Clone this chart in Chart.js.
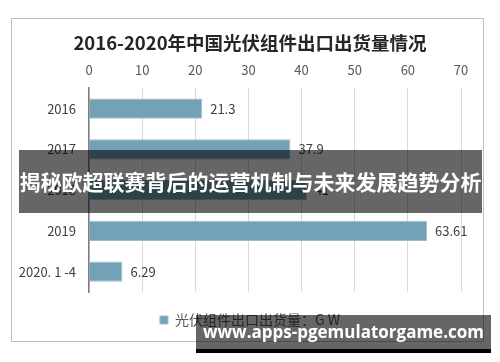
<!DOCTYPE html>
<html lang="zh">
<head>
<meta charset="utf-8">
<script src="https://cdn.jsdelivr.net/npm/chart.js@4.4.1/dist/chart.umd.min.js"></script>
<style>
  html,body{margin:0;padding:0;background:#fff;}
  #wrap{position:relative;width:500px;height:362px;overflow:hidden;}
  #frame{position:absolute;left:11px;top:18px;width:471px;height:322px;border:1.5px solid #bfbfbf;}
  canvas{position:absolute;left:0;top:0;}
  #banner{position:absolute;left:19px;top:150px;width:463px;height:63px;background:rgba(0,0,0,0.6);
    color:#fff;font:bold 21px "Noto Sans CJK SC",sans-serif;line-height:63px;text-align:center;white-space:nowrap;}
  #mark{position:absolute;left:196px;top:315px;width:295px;height:34px;background:rgba(0,0,0,0.6);
    border-bottom:4px solid #000;color:#fff;font:bold 17px "Open Sans",sans-serif;line-height:34px;text-align:center;white-space:nowrap;}
</style>
</head>
<body>
<div id="wrap">
  <div id="frame"></div>
  <canvas id="c" width="500" height="362"></canvas>
  <div id="banner">揭秘欧超联赛背后的运营机制与未来发展趋势分析</div>
  <div id="mark">www.apps-pgemulatorgame.com</div>
</div>
<script>
const categories = ['2016', '2017', '2018', '2019', '2020. 1 -4'];
const exports_gw = [21.3, 37.9, 41, 63.61, 6.29];
const valueLabels = ['21.3', '37.9', '41', '63.61', '6.29'];
const xTicks = [0, 10, 20, 30, 40, 50, 60, 70];

const FONT = '"Noto Sans CJK SC", "Noto Sans", sans-serif';

const barLabels = {
  id: 'barLabels',
  afterDatasetsDraw(chart){
    const ctx = chart.ctx;
    const meta = chart.getDatasetMeta(0);
    ctx.save();
    ctx.font = '13px ' + FONT;
    ctx.fillStyle = '#404040';
    ctx.textBaseline = 'middle';
    ctx.textAlign = 'left';
    meta.data.forEach((bar, i) => ctx.fillText(valueLabels[i], bar.x + 8, bar.y));
    ctx.restore();
  }
};

new Chart(document.getElementById('c'), {
  type: 'bar',
  data: {
    labels: categories,
    datasets: [{
      label: '光伏组件出口出货量：G W',
      data: exports_gw,
      backgroundColor: '#73a2b6',
      borderColor: '#9cbccb',
      borderWidth: 1,
      categoryPercentage: 0.5,
      barPercentage: 1
    }]
  },
  options: {
    indexAxis: 'y',
    responsive: false,
    devicePixelRatio: 1,
    animation: false,
    layout: {padding: {left: 0, right: 0, top: 0, bottom: 25}},
    plugins: {
      title: {
        display: true,
        text: '2016-2020年中国光伏组件出口出货量情况',
        color: '#262626',
        font: {family: FONT, size: 18.5, weight: 'bold', lineHeight: 1.2},
        padding: {top: 32, bottom: 6}
      },
      legend: {
        position: 'bottom',
        labels: {
          color: '#595959',
          font: {family: FONT, size: 14},
          boxWidth: 8, boxHeight: 8, padding: 21
        }
      },
      tooltip: {enabled: false}
    },
    scales: {
      x: {
        position: 'top',
        min: 0, max: 70,
        afterBuildTicks: s => { s.ticks = xTicks.map(v => ({value: v})); },
        afterFit: s => { s.height = 28; },
        ticks: {color: '#595959', font: {family: FONT, size: 13}, padding: 10},
        grid: {color: '#d9d9d9', drawTicks: false},
        border: {display: false}
      },
      y: {
        afterFit: s => { s.width = 89; },
        ticks: {color: '#404040', font: {family: FONT, size: 13}, padding: 13},
        grid: {display: false, drawTicks: false},
        border: {display: true, color: '#7f7f7f', width: 1.5}
      },
      // empty right-hand strip so the plot ends at 70 without shifting title and legend
      yRight: {
        type: 'category',
        position: 'right',
        afterFit: s => { s.width = 39; },
        ticks: {display: false},
        grid: {display: false, drawTicks: false},
        border: {display: false}
      }
    }
  },
  plugins: [barLabels]
});
</script>
</body>
</html>
